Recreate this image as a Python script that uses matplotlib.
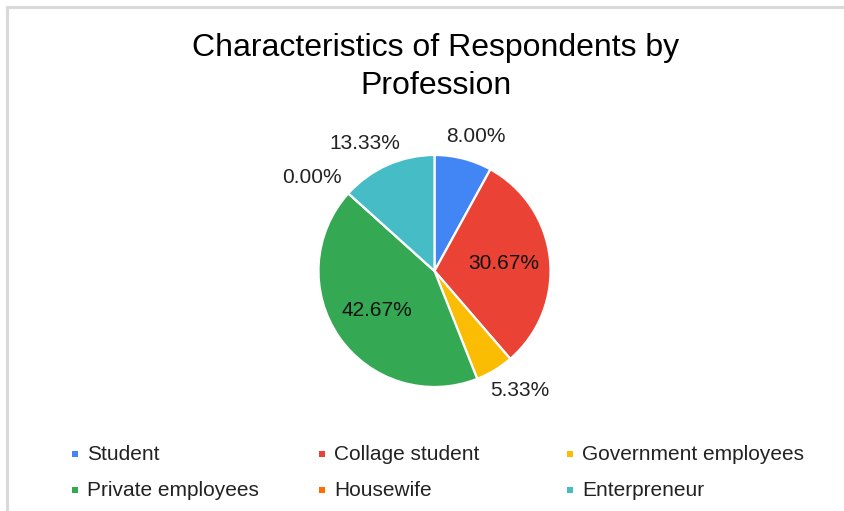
import matplotlib
matplotlib.use("Agg")
import matplotlib.pyplot as plt
import matplotlib.transforms as mtransforms
import numpy as np
from matplotlib.lines import Line2D

categories = ["Student", "Collage student", "Government employees",
              "Private employees", "Housewife", "Enterpreneur"]
values = [8.00, 30.67, 5.33, 42.67, 0.00, 13.33]
colors = ["#4285F4", "#EA4335", "#FBBC04", "#34A853", "#FF6D01", "#46BDC6"]
title = "Characteristics of Respondents by\nProfession"

plt.rcParams['font.family'] = ['Liberation Sans', 'DejaVu Sans']

W, H = 845, 511
fig = plt.figure(figsize=(W / 100, H / 100), dpi=100)
fig.patch.set_facecolor("white")

# overlay axes in pixel coordinates for frame/title/legend
ov = fig.add_axes([0, 0, 1, 1])
ov.set_xlim(0, W)
ov.set_ylim(H, 0)
ov.axis("off")
ov.add_line(Line2D([7.5, 7.5], [7.5, H + 5], color="#d9d9d9", lw=2.2))
ov.add_line(Line2D([7.5, W + 5], [7.5, 7.5], color="#d9d9d9", lw=2.2))

ov.text(436, 67, title, ha="center", va="center", fontsize=23,
        color="#000000", linespacing=1.32, multialignment="center")

# pie axes
cx, cy, R = 434.5, 271, 116
ax = fig.add_axes([(cx - R) / W, (H - cy - R) / H, 2 * R / W, 2 * R / H])
wedges, _ = ax.pie(values, colors=colors, startangle=90, counterclock=False,
                   radius=1.0, wedgeprops=dict(edgecolor="white", linewidth=1.6))
ax.set_xlim(-1, 1)
ax.set_ylim(-1, 1)
ax.set_aspect("auto")

renderer = fig.canvas.get_renderer()
total = sum(values)
for w, v in zip(wedges, values):
    mid = np.deg2rad((w.theta1 + w.theta2) / 2)
    c, s = np.cos(mid), np.sin(mid)
    txt = f"{v:.2f}%"
    if v / total > 0.2:
        ax.text(0.6 * c, 0.6 * s, txt, ha="center", va="center",
                fontsize=15, color="#111111")
    else:
        r = 1.13
        t = ax.text(r * c, r * s, txt, ha="center", va="center", fontsize=15,
                    color="#222222", clip_on=False)
        bb = t.get_window_extent(renderer)
        hw, hh = bb.width / 2 * 1.15, bb.height / 2 * 0.85
        t.set_transform(mtransforms.offset_copy(ax.transData, fig=fig,
                                                x=c * hw, y=s * hh, units="dots"))

# legend (manual grid)
col_x = [75, 322, 570]
row_y = [454, 490]
for i, (cat, col) in enumerate(zip(categories, colors)):
    x = col_x[i % 3]
    y = row_y[i // 3]
    ov.scatter([x], [y], marker="s", s=16, color=col, linewidths=0)
    ov.text(x + 12, y, cat, ha="left", va="center", fontsize=15,
            color="#222222")

fig.savefig("out.png", dpi=100, facecolor="white")
